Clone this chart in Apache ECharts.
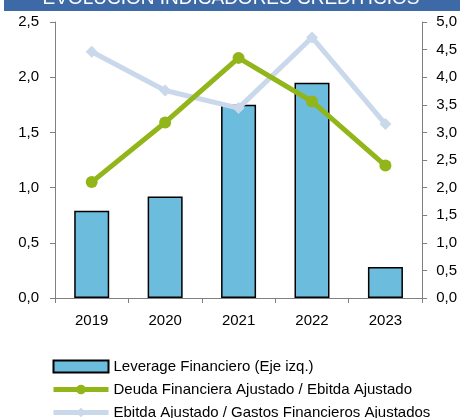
<!DOCTYPE html>
<html><head><meta charset="utf-8">
<script src="https://cdn.jsdelivr.net/npm/echarts@6/dist/echarts.min.js"></script>
<style>html,body{margin:0;padding:0;background:#fff}#c{width:460px;height:418px}</style>
</head><body><div id="c"></div>
<script>
var categories = ['2019','2020','2021','2022','2023'];
var leverage = [0.79, 0.92, 1.75, 1.95, 0.28];
var deudaEbitda = [2.10, 3.18, 4.35, 3.56, 2.40];
var ebitdaGastos = [4.46, 3.76, 3.44, 4.72, 3.15];
var leftTicks = [0, 2.5, 0.5];
var rightTicks = [0, 5, 0.5];
var seriesNames = ['Leverage Financiero (Eje izq.)','Deuda Financiera Ajustado / Ebitda Ajustado','Ebitda Ajustado / Gastos Financieros Ajustados'];
var titleText = 'EVOLUCIÓN INDICADORES CREDITICIOS';

var fmt = function(v){ return v.toFixed(1).replace('.', ','); };
var font = 'Liberation Sans';
var chart = echarts.init(document.getElementById('c'), null, {renderer:'canvas'});
chart.setOption({
  animation:false,
  textStyle:{fontFamily:font},
  graphic:[
    {type:'rect', shape:{x:4,y:0,width:456,height:11}, style:{fill:'#3d69a6'}, z:10},
    {type:'text', x:231, y:8, style:{text:titleText, fill:'#fff', font:'19px "Liberation Sans"', textAlign:'center', textVerticalAlign:'bottom'}, z:11}
  ],
  grid:{left:55, right:37, top:22, bottom:120, containLabel:false},
  legend:{
    orient:'vertical', left:51, top:359, height:70, padding:0, itemWidth:55, itemHeight:12, itemGap:8,
    textStyle:{fontSize:15, color:'#000', fontFamily:font},
    data:[
      {name:seriesNames[0], icon:'rect'},
      {name:seriesNames[1], lineStyle:{width:5}},
      {name:seriesNames[2], lineStyle:{width:5}}
    ]
  },
  xAxis:{
    type:'category', data:categories,
    axisLine:{lineStyle:{color:'#808080', width:1}},
    axisTick:{show:true, alignWithLabel:false, length:5, lineStyle:{color:'#808080'}},
    axisLabel:{fontSize:15, color:'#000', margin:15}
  },
  yAxis:[
    {type:'value', min:leftTicks[0], max:leftTicks[1], interval:leftTicks[2],
     axisLine:{show:true, lineStyle:{color:'#808080'}},
     axisTick:{show:true, length:5, lineStyle:{color:'#808080'}},
     splitLine:{show:false},
     axisLabel:{fontSize:15, color:'#000', margin:16, formatter:fmt}},
    {type:'value', min:rightTicks[0], max:rightTicks[1], interval:rightTicks[2], position:'right',
     axisLine:{show:true, lineStyle:{color:'#808080'}},
     axisTick:{show:true, length:5, lineStyle:{color:'#808080'}},
     splitLine:{show:false},
     axisLabel:{fontSize:15, color:'#000', margin:14, formatter:fmt}}
  ],
  series:[
    {name:seriesNames[0], type:'bar', data:leverage, yAxisIndex:0, barWidth:35,
     itemStyle:{color:'#6cbcdd', borderColor:'#000', borderWidth:1.5}},
    {name:seriesNames[1], type:'line', data:deudaEbitda, yAxisIndex:1,
     symbol:'circle', symbolSize:12, lineStyle:{color:'#92b51a', width:5},
     itemStyle:{color:'#92b51a'}, z:3},
    {name:seriesNames[2], type:'line', data:ebitdaGastos, yAxisIndex:1,
     symbol:'diamond', symbolSize:12, lineStyle:{color:'#c9d8ea', width:5},
     itemStyle:{color:'#c9d8ea'}, z:2}
  ]
});
</script></body></html>
